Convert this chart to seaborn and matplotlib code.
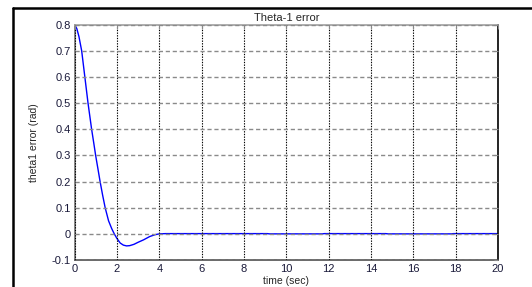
import matplotlib
matplotlib.use("Agg")
import matplotlib.pyplot as plt
import seaborn as sns
import pandas as pd
from matplotlib.lines import Line2D

# values
time_sec = [0.0, 0.1, 0.2, 0.33, 0.48, 0.63, 0.8, 0.9, 0.99, 1.1, 1.2, 1.32,
            1.44, 1.6, 1.75, 1.87, 2.0, 2.15, 2.3, 2.45, 2.6, 2.8, 3.0, 3.25,
            3.55, 3.8, 4.0, 4.3, 6.0, 9.1, 9.2, 11.7, 11.8, 14.7, 14.8, 17.8,
            17.9, 20.0]
theta1_err = [0.800, 0.785, 0.755, 0.700, 0.600, 0.500, 0.400, 0.348, 0.300,
              0.248, 0.200, 0.148, 0.100, 0.050, 0.020, 0.000, -0.018, -0.035,
              -0.043, -0.046, -0.045, -0.040, -0.032, -0.023, -0.010, -0.003,
              0.000, 0.001, 0.001, 0.001, 0.000, 0.000, 0.001, 0.001, 0.000,
              0.000, 0.001, 0.001]

x_ticks = [0, 2, 4, 6, 8, 10, 12, 14, 16, 18, 20]
y_ticks = [-0.1, 0, 0.1, 0.2, 0.3, 0.4, 0.5, 0.6, 0.7, 0.8]
y_tick_labels = ["-0.1", "0", "0.1", "0.2", "0.3", "0.4", "0.5", "0.6", "0.7", "0.8"]

df = pd.DataFrame({"time": time_sec, "err": theta1_err})

sns.set_style("white")
plt.rcParams["font.family"] = ["Liberation Sans", "DejaVu Sans"]

fig = plt.figure(figsize=(5.32, 2.87), dpi=100)
ax = fig.add_axes([0.1404, 0.094, 0.7956, 0.820])

sns.lineplot(data=df, x="time", y="err", color="#0000ff", linewidth=1.0, ax=ax)

ax.set_xlim(0, 20)
ax.set_ylim(-0.1, 0.8)
ax.set_xticks(x_ticks)
ax.set_yticks(y_ticks)
ax.set_yticklabels(y_tick_labels)

# MATLAB-like grid: dotted black verticals, dashed grey horizontals
ax.xaxis.grid(True, color="black", linestyle=(0, (1.2, 1.2)), linewidth=0.8)
ax.yaxis.grid(True, color="#8a8a8a", linestyle=(0, (3, 2)), linewidth=1.0)
ax.set_axisbelow(False)

ax.tick_params(axis="both", direction="in", length=3, width=0.8,
               labelsize=8, labelcolor="#1a1a3a", color="#888888",
               top=True, right=True, pad=3)

ax.spines["left"].set_color("#707070")
ax.spines["top"].set_color("#a0a0a0")
ax.spines["right"].set_color("black")
ax.spines["bottom"].set_color("#505050")
for s in ax.spines.values():
    s.set_linewidth(1.2)

ax.set_title("Theta-1 error", fontsize=8, pad=3)
ax.set_xlabel("time (sec)", fontsize=7.5, labelpad=1)
ax.set_ylabel("theta1 error (rad)", fontsize=7.5, labelpad=9)

# frame around the figure (top and left edges visible in the reference)
fig.add_artist(Line2D([0.0244, 1.0], [0.972, 0.972], color="black", linewidth=1.8,
                      transform=fig.transFigure))
fig.add_artist(Line2D([0.0244, 0.0244], [0.0, 0.972], color="black", linewidth=1.8,
                      transform=fig.transFigure))

fig.savefig("out.png", dpi=100)
